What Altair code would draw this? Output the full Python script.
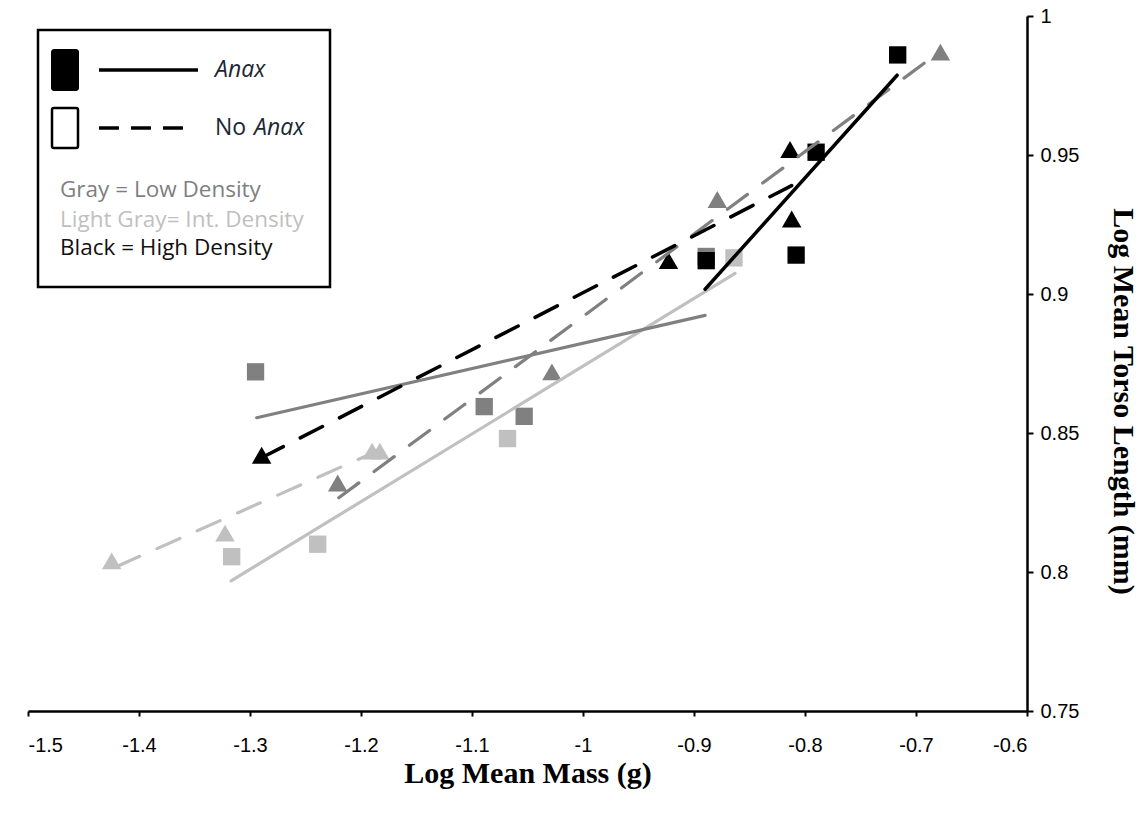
import altair as alt
import pandas as pd

# ---- data ----
# Anax present (squares, solid trend lines)
anax_low_x = [-1.295, -1.089, -1.053, -0.889]
anax_low_y = [0.872, 0.8595, 0.856, 0.9135]
anax_int_x = [-1.3165, -1.239, -1.068, -0.864]
anax_int_y = [0.8055, 0.810, 0.848, 0.913]
anax_high_x = [-0.889, -0.808, -0.790, -0.7165]
anax_high_y = [0.912, 0.914, 0.951, 0.986]
# No Anax (triangles, dashed trend lines)
noanax_low_x = [-1.221, -1.028, -0.879, -0.678]
noanax_low_y = [0.832, 0.872, 0.934, 0.987]
noanax_int_x = [-1.4246, -1.3225, -1.190, -1.183]
noanax_int_y = [0.804, 0.814, 0.8435, 0.8435]
noanax_high_x = [-1.2895, -0.923, -0.8135, -0.812]
noanax_high_y = [0.842, 0.912, 0.952, 0.927]

# trend line end points (x, y)
trend_anax_low = ([-1.294, -0.890], [0.8555, 0.8923])
trend_anax_int = ([-1.317, -0.863], [0.7968, 0.9074])
trend_anax_high = ([-0.890, -0.717], [0.9017, 0.9787])
trend_noanax_low = ([-1.220, -0.684], [0.8267, 0.9856])
trend_noanax_int = ([-1.420, -1.194], [0.802, 0.842])
trend_noanax_high = ([-1.290, -0.812], [0.841, 0.939])

x_ticks = [-1.5, -1.4, -1.3, -1.2, -1.1, -1.0, -0.9, -0.8, -0.7, -0.6]
y_ticks = [0.75, 0.8, 0.85, 0.9, 0.95, 1.0]

GRAY = "#808080"
LIGHT = "#c0c0c0"
BLACK = "#000000"

xscale = alt.Scale(domain=[-1.5, -0.6], nice=False, zero=False)
yscale = alt.Scale(domain=[0.75, 1.0], nice=False, zero=False)

xaxis = alt.Axis(
    values=x_ticks,
    labelExpr="datum.value < 0 ? '-' + format(-datum.value, '') : format(datum.value, '')",
    title="Log Mean Mass (g)",
    titleFont="Liberation Serif", titleFontSize=30, titleFontWeight="bold", titleColor="black",
    titleY=62, titleBaseline="middle",
    labelFont="Liberation Sans", labelFontSize=20, labelColor="black", labelPadding=19,
    domainColor="black", domainWidth=2.5, tickColor="black", tickWidth=2, tickSize=5,
    grid=False,
)
yaxis = alt.Axis(
    orient="right",
    values=y_ticks,
    format="",
    title="Log Mean Torso Length (mm)",
    titleFont="Liberation Serif", titleFontSize=30, titleFontWeight="bold", titleColor="black",
    titleAngle=90, titleX=95, titleY=385, titleBaseline="middle", titleAlign="center",
    labelFont="Liberation Sans", labelFontSize=20, labelColor="black", labelPadding=7,
    domainColor="black", domainWidth=2.5, tickColor="black", tickWidth=2, tickSize=6,
    grid=False,
)


def enc(ch):
    return ch.encode(
        x=alt.X("x:Q", scale=xscale, axis=xaxis),
        y=alt.Y("y:Q", scale=yscale, axis=yaxis),
    )


def points(xs, ys, shape, color, size):
    df = pd.DataFrame({"x": xs, "y": ys})
    return enc(alt.Chart(df).mark_point(shape=shape, filled=True, size=size, color=color, opacity=1, strokeWidth=0))


def trend(t, color, dashed, width=3.2):
    df = pd.DataFrame({"x": t[0], "y": t[1]})
    kw = dict(color=color, strokeWidth=width, strokeCap="round")
    if dashed:
        kw["strokeDash"] = [25, 19]
    return enc(alt.Chart(df).mark_line(**kw))


SQ = 300
TRI = 380

layers = [
    points(anax_int_x, anax_int_y, "square", LIGHT, SQ),
    points(noanax_int_x, noanax_int_y, "triangle-up", LIGHT, TRI),
    points(anax_low_x, anax_low_y, "square", GRAY, SQ),
    points(noanax_low_x, noanax_low_y, "triangle-up", GRAY, TRI),
    points(anax_high_x, anax_high_y, "square", BLACK, SQ),
    points(noanax_high_x, noanax_high_y, "triangle-up", BLACK, TRI),
    trend(trend_noanax_int, LIGHT, True),
    trend(trend_anax_int, LIGHT, False),
    trend(trend_anax_low, GRAY, False),
    trend(trend_noanax_low, GRAY, True),
    trend(trend_noanax_high, BLACK, True, 3.5),
    trend(trend_anax_high, BLACK, False, 3.5),
]

# ---- hand-drawn legend box (pixel positions inside the plot area) ----
one = pd.DataFrame({"a": [0]})
legend = [
    alt.Chart(one).mark_rect(fill="white", stroke="black", strokeWidth=2.5).encode(
        x=alt.value(10), x2=alt.value(302), y=alt.value(14), y2=alt.value(271)),
    alt.Chart(one).mark_rect(fill="black", cornerRadius=3).encode(
        x=alt.value(23), x2=alt.value(51), y=alt.value(33), y2=alt.value(75)),
    alt.Chart(one).mark_rect(fill="white", stroke="black", strokeWidth=2.5, cornerRadius=2).encode(
        x=alt.value(24), x2=alt.value(50), y=alt.value(92), y2=alt.value(132)),
    alt.Chart(one).mark_rule(color="black", strokeWidth=3.5).encode(
        x=alt.value(71), x2=alt.value(170), y=alt.value(54)),
    alt.Chart(one).mark_rule(color="black", strokeWidth=3.5, strokeDash=[20, 12]).encode(
        x=alt.value(71), x2=alt.value(162), y=alt.value(112)),
    alt.Chart(one).mark_text(text="Anax", font="Open Sans", fontSize=23, fontStyle="italic",
                             color="#1c2733", align="left", baseline="middle").encode(
        x=alt.value(187), y=alt.value(54)),
    alt.Chart(one).mark_text(text="No", font="Open Sans", fontSize=23,
                             color="#1c2733", align="left", baseline="middle").encode(
        x=alt.value(187), y=alt.value(112)),
    alt.Chart(one).mark_text(text="Anax", font="Open Sans", fontSize=23, fontStyle="italic",
                             color="#1c2733", align="left", baseline="middle").encode(
        x=alt.value(226), y=alt.value(112)),
    alt.Chart(one).mark_text(text="Gray = Low Density", font="Open Sans", fontSize=22.5,
                             color="#7f7f7f", align="left", baseline="middle").encode(
        x=alt.value(32), y=alt.value(174)),
    alt.Chart(one).mark_text(text="Light Gray= Int. Density", font="Open Sans", fontSize=22.5,
                             color="#bfbfbf", align="left", baseline="middle").encode(
        x=alt.value(32), y=alt.value(204)),
    alt.Chart(one).mark_text(text="Black = High Density", font="Open Sans", fontSize=22.5,
                             color="#111111", align="left", baseline="middle").encode(
        x=alt.value(32), y=alt.value(232)),
]

chart = alt.layer(*layers, *legend).properties(
    width=999,
    height=695,
    autosize=alt.AutoSizeParams(type="none"),
    padding={"left": 28, "top": 16, "right": 115, "bottom": 114},
    background="white",
).configure_view(strokeWidth=0)

chart.save("out.html", embed_options={"renderer": "svg", "actions": False})
